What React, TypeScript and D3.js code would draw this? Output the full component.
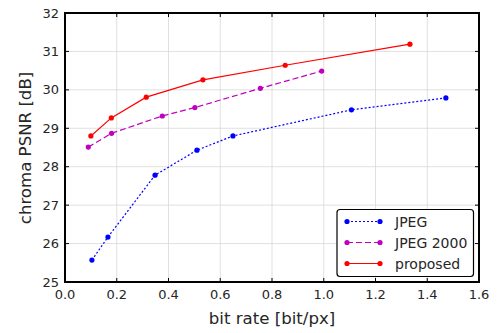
import React from "react";
import * as d3 from "d3";

const jpegX = [0.104, 0.166, 0.348, 0.51, 0.649, 1.107, 1.472];
const jpegY = [25.57, 26.17, 27.78, 28.43, 28.8, 29.48, 29.79];
const j2kX = [0.09, 0.18, 0.376, 0.502, 0.755, 0.992];
const j2kY = [28.51, 28.87, 29.32, 29.54, 30.04, 30.49];
const propX = [0.1, 0.179, 0.314, 0.533, 0.851, 1.333];
const propY = [28.8, 29.27, 29.81, 30.26, 30.64, 31.19];
const xTicks = [0, 0.2, 0.4, 0.6, 0.8, 1.0, 1.2, 1.4, 1.6];
const yTicks = [25, 26, 27, 28, 29, 30, 31, 32];

const series = [
  { name: "JPEG", xs: jpegX, ys: jpegY, color: "#0000ff", dash: "2,2" },
  { name: "JPEG 2000", xs: j2kX, ys: j2kY, color: "#bf00bf", dash: "6,3" },
  { name: "proposed", xs: propX, ys: propY, color: "#ff0000", dash: "" },
];

export default function App() {
  const L = 65, R = 479, T = 13, B = 282;
  const x = d3.scaleLinear().domain([0, 1.6]).range([L, R]);
  const y = d3.scaleLinear().domain([25, 32]).range([B, T]);
  const font = "DejaVu Sans, sans-serif";
  const line = d3.line<[number, number]>().x((d) => x(d[0])).y((d) => y(d[1]));
  return (
    <svg width={500} height={333} style={{ position: "absolute", left: 0, top: 0, background: "#fff" }} fontFamily={font}>
      {xTicks.map((t) => (
        <g key={"x" + t}>
          <line x1={x(t)} x2={x(t)} y1={T} y2={B} stroke="#d8d8d8" strokeWidth={0.8} />
          <line x1={x(t)} x2={x(t)} y1={B} y2={B - 4} stroke="#000" />
          <line x1={x(t)} x2={x(t)} y1={T} y2={T + 4} stroke="#000" />
          <text x={x(t)} y={B + 17} fontSize={13} textAnchor="middle" fill="#262626">{t.toFixed(1)}</text>
        </g>
      ))}
      {yTicks.map((t) => (
        <g key={"y" + t}>
          <line x1={L} x2={R} y1={y(t)} y2={y(t)} stroke="#d8d8d8" strokeWidth={0.8} />
          <line x1={L} x2={L + 4} y1={y(t)} y2={y(t)} stroke="#000" />
          <line x1={R} x2={R - 4} y1={y(t)} y2={y(t)} stroke="#000" />
          <text x={L - 6} y={y(t) + 4.5} fontSize={13} textAnchor="end" fill="#262626">{t}</text>
        </g>
      ))}
      {series.map((s) => {
        const pts = s.xs.map((v, i) => [v, s.ys[i]] as [number, number]);
        return (
          <g key={s.name}>
            <path d={line(pts) || ""} fill="none" stroke={s.color} strokeWidth={1.2} strokeDasharray={s.dash} />
            {pts.map((p, i) => (
              <circle key={i} cx={x(p[0])} cy={y(p[1])} r={2.6} fill={s.color} />
            ))}
          </g>
        );
      })}
      <rect x={L} y={T} width={R - L} height={B - T} fill="none" stroke="#000" strokeWidth={2} />
      <g>
        <rect x={337} y={209.5} width={136.5} height={67} rx={3} fill="#fff" stroke="#000" strokeWidth={1.2} />
        {series.map((s, i) => {
          const cy = 221.5 + i * 21;
          return (
            <g key={s.name}>
              <line x1={347} x2={380} y1={cy} y2={cy} stroke={s.color} strokeWidth={1.2} strokeDasharray={s.dash} />
              <circle cx={347} cy={cy} r={2.6} fill={s.color} />
              <circle cx={380} cy={cy} r={2.6} fill={s.color} />
              <text x={395} y={cy + 5} fontSize={14} fill="#262626">{s.name}</text>
            </g>
          );
        })}
      </g>
      <text x={272} y={324} fontSize={16.6} textAnchor="middle" fill="#262626">bit rate [bit/px]</text>
      <text transform={`translate(31,148) rotate(-90)`} fontSize={16.6} textAnchor="middle" fill="#262626">chroma PSNR [dB]</text>
    </svg>
  );
}
